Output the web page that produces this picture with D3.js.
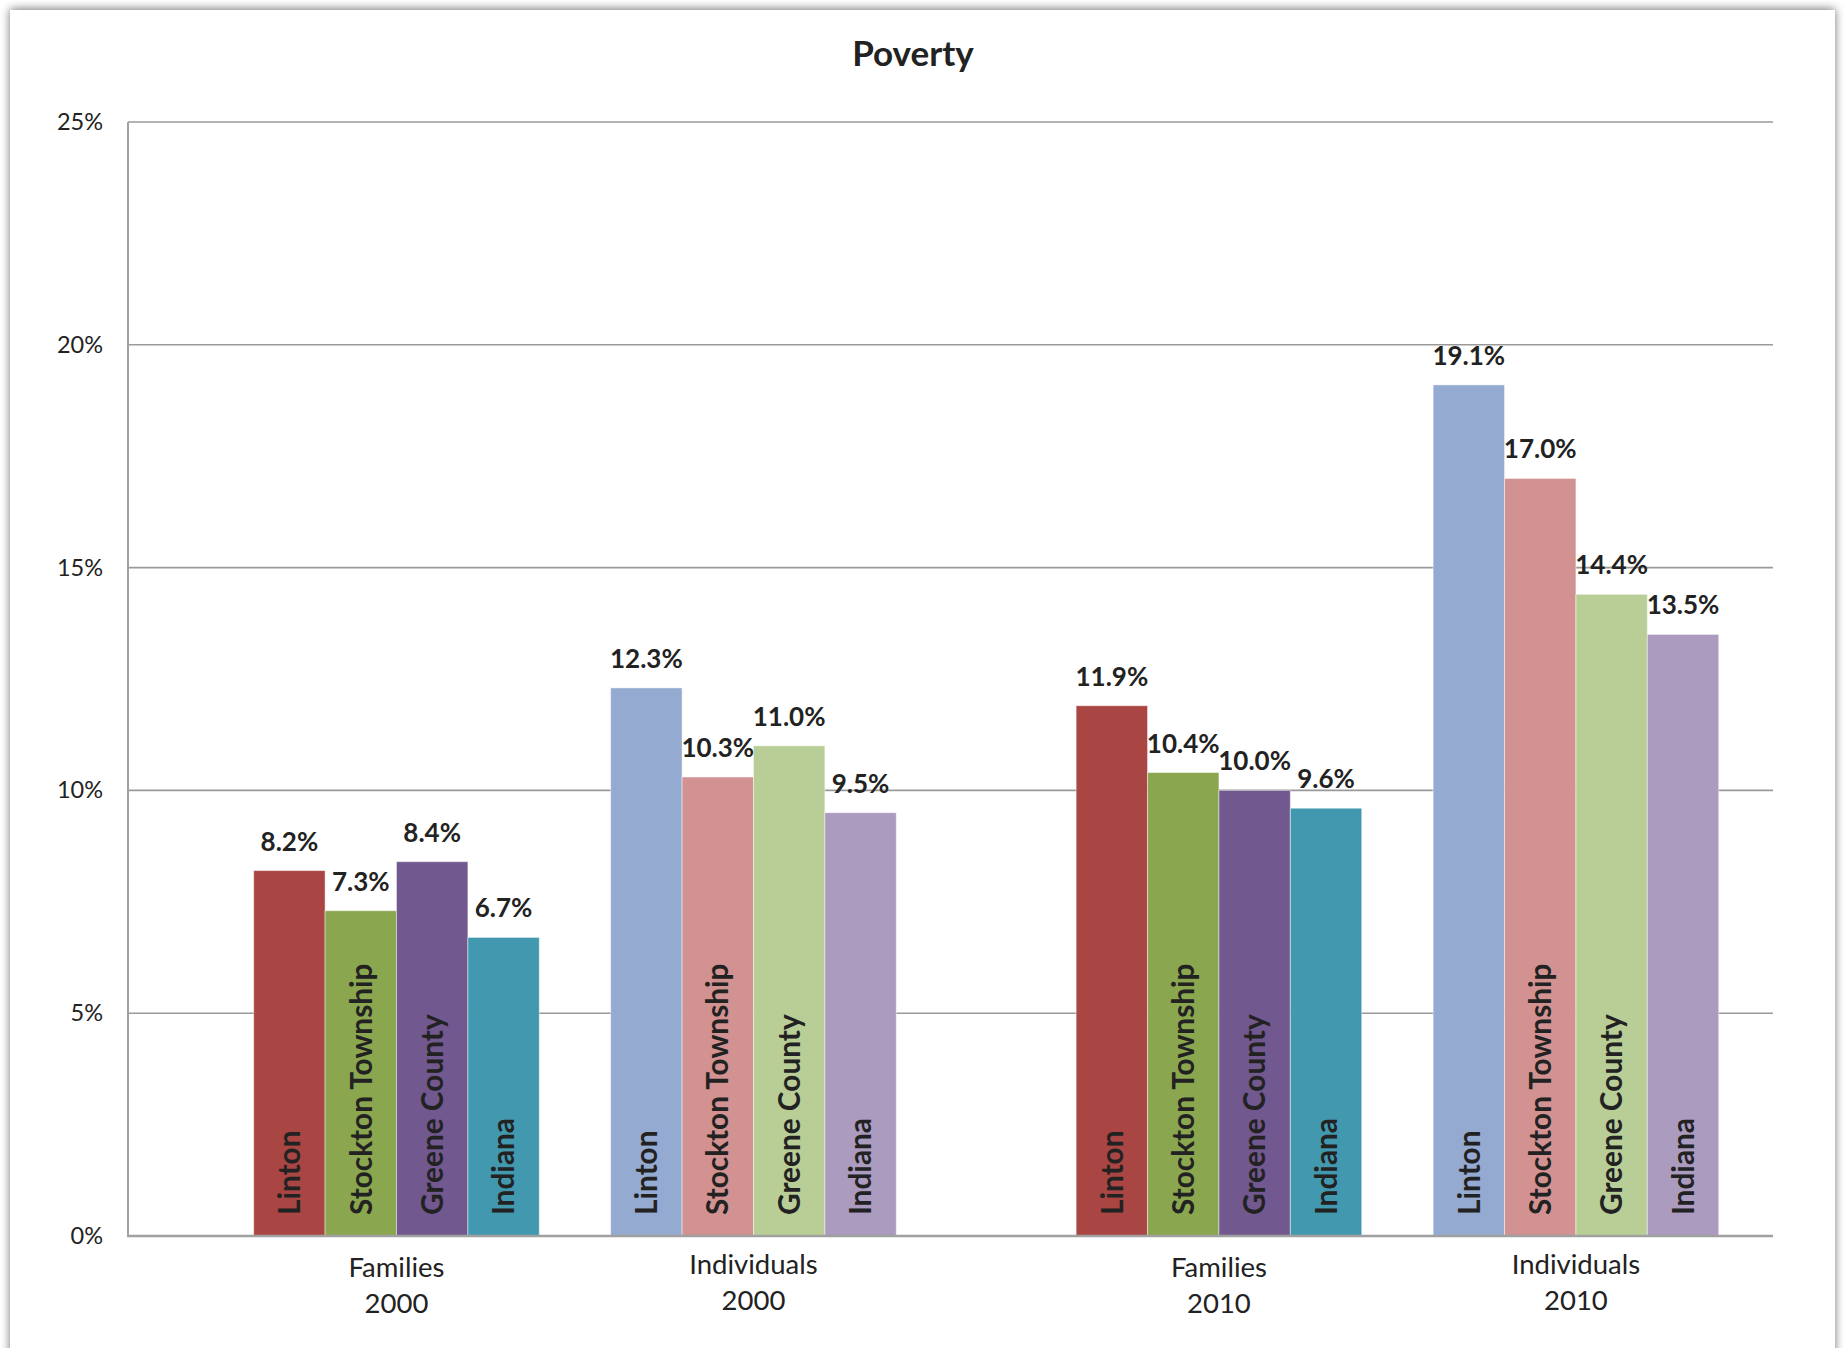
<!DOCTYPE html>
<html>
<head>
<meta charset="utf-8">
<script src="https://cdn.jsdelivr.net/npm/d3@7"></script>
<style>
  html, body { margin: 0; padding: 0; background: #ffffff; }
  svg { display: block; }
  text { font-family: Lato, "Open Sans", sans-serif; fill: #222; }
</style>
</head>
<body>
<svg id="chart" width="1844" height="1348"></svg>
<script>
// Poverty rates (%) by place, for families and individuals, 2000 and 2010
const places = ["Linton", "Stockton Township", "Greene County", "Indiana"];
const years = ["2000", "2010"];
const measures = ["Families", "Individuals"];

const families2000 = [8.2, 7.3, 8.4, 6.7];
const individuals2000 = [12.3, 10.3, 11.0, 9.5];
const families2010 = [11.9, 10.4, 10.0, 9.6];
const individuals2010 = [19.1, 17.0, 14.4, 13.5];

const yTicks = [0, 5, 10, 15, 20, 25];

const familyColors = ["#A94543", "#8AA64F", "#71588F", "#4298AF"];
const individualColors = ["#95AAD0", "#D29291", "#B9CE97", "#AA9BBF"];

const series = [
  { year: "2000", measure: 0, values: families2000, colors: familyColors },
  { year: "2000", measure: 1, values: individuals2000, colors: individualColors },
  { year: "2010", measure: 0, values: families2010, colors: familyColors },
  { year: "2010", measure: 1, values: individuals2010, colors: individualColors }
];

const W = 1844, H = 1348;
const plot = { left: 128, right: 1773, top: 122, bottom: 1236 };

const svg = d3.select("#chart");

// card with soft shadow
const defs = svg.append("defs");
const f = defs.append("filter").attr("id", "shadow")
  .attr("x", "-5%").attr("y", "-5%").attr("width", "110%").attr("height", "110%");
f.append("feGaussianBlur").attr("stdDeviation", 5);
svg.append("rect").attr("x", 10).attr("y", 9).attr("width", 1825).attr("height", 1420)
  .attr("fill", "#000").attr("opacity", 0.55).attr("filter", "url(#shadow)");
svg.append("rect").attr("x", 10).attr("y", 10).attr("width", 1825).attr("height", 1420)
  .attr("fill", "#fff");

// scales
const y = d3.scaleLinear().domain([0, 25]).range([plot.bottom, plot.top]);
const x0 = d3.scaleBand().domain(years).range([plot.left, plot.right])
  .paddingInner(0.1319).paddingOuter(0.066);
// ten slots per year: spacer, four family bars, spacer, four individual bars
const x1 = d3.scaleBand().domain(d3.range(10)).range([0, x0.bandwidth()]);
const slot = (m, p) => 1 + m * 5 + p;

// gridlines
svg.append("g").selectAll("line").data(yTicks.filter(d => d > 0)).join("line")
  .attr("x1", plot.left).attr("x2", plot.right)
  .attr("y1", d => y(d)).attr("y2", d => y(d))
  .attr("stroke", "#9a9a9a").attr("stroke-width", 1.6);

// y axis labels
const yAxis = d3.axisLeft(y).tickValues(yTicks).tickFormat(d => d + "%").tickSize(0).tickPadding(25);
const ya = svg.append("g").attr("transform", `translate(${plot.left},0)`).call(yAxis);
ya.select(".domain").remove();
ya.selectAll("text").style("font-size", "23.5px").style("font-family", "Lato, sans-serif").attr("fill", "#222");

// bars
const groups = svg.append("g").selectAll("g").data(series).join("g");
const bw = x1.bandwidth();
groups.each(function (s) {
  const g = d3.select(this);
  const gx = x0(s.year);
  const rows = s.values.map((v, i) => ({ v, i }));
  g.selectAll("rect").data(rows).join("rect")
    .attr("x", d => gx + x1(slot(s.measure, d.i)))
    .attr("y", d => y(d.v))
    .attr("width", bw)
    .attr("height", d => y(0) - y(d.v))
    .attr("fill", d => s.colors[d.i])
    .attr("stroke", "rgba(255,255,255,0.45)")
    .attr("stroke-width", 1);

  // value labels
  g.selectAll("text.val").data(rows).join("text").attr("class", "val")
    .attr("x", d => gx + x1(slot(s.measure, d.i)) + bw / 2)
    .attr("y", d => y(d.v) - 20)
    .attr("text-anchor", "middle")
    .style("font-size", "26px").style("font-weight", 700)
    .text(d => d.v.toFixed(1) + "%");

  // place names inside bars
  g.selectAll("text.name").data(rows).join("text").attr("class", "name")
    .attr("transform", d => `translate(${gx + x1(slot(s.measure, d.i)) + bw / 2},${y(0) - 21}) rotate(-90)`)
    .attr("dy", "0.36em")
    .attr("text-anchor", "start")
    .style("font-size", "29.8px").style("font-weight", 700)
    .text(d => places[d.i]);

  // category label under the bar group
  const cx = gx + x1(slot(s.measure, 0)) + 2 * bw;
  const ly = s.measure === 0 ? 1277 : 1274;
  const lbl = g.append("text").attr("text-anchor", "middle").style("font-size", "27.5px");
  lbl.append("tspan").attr("x", cx).attr("y", ly).text(measures[s.measure]);
  lbl.append("tspan").attr("x", cx).attr("y", ly + 36).text(s.year);
});

// axis lines
svg.append("line").attr("x1", plot.left).attr("x2", plot.left)
  .attr("y1", plot.top).attr("y2", plot.bottom)
  .attr("stroke", "#a0a0a0").attr("stroke-width", 2);
svg.append("line").attr("x1", plot.left - 1).attr("x2", plot.right)
  .attr("y1", plot.bottom).attr("y2", plot.bottom)
  .attr("stroke", "#a0a0a0").attr("stroke-width", 2.4);

// title
svg.append("text").attr("x", 913).attr("y", 66).attr("text-anchor", "middle")
  .style("font-size", "35px").style("font-weight", 700).text("Poverty");
</script>
</body>
</html>
